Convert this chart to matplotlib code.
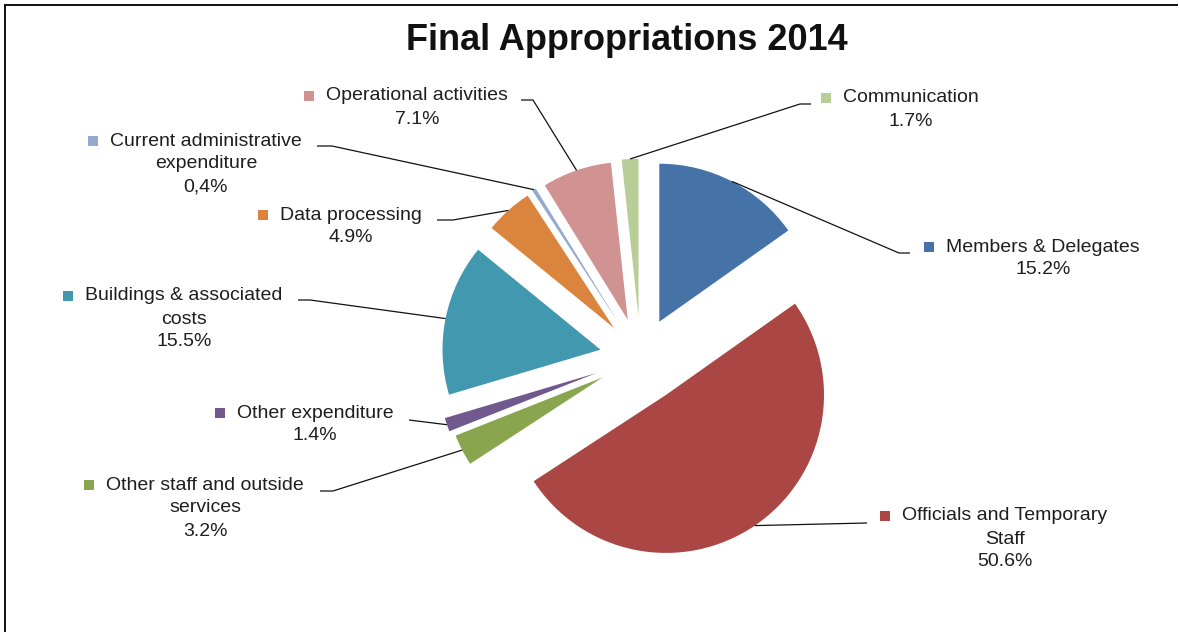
import matplotlib
matplotlib.use("Agg")
import matplotlib.pyplot as plt
import numpy as np

plt.rcParams['font.family'] = ['Liberation Sans', 'DejaVu Sans']

W, H = 1179, 632

# budget shares, clockwise from 12 o'clock
categories = ["Members & Delegates", "Officials and Temporary Staff",
              "Other staff and outside services", "Other expenditure",
              "Buildings & associated costs", "Data processing",
              "Current administrative expenditure", "Operational activities",
              "Communication"]
shares = [15.2, 50.6, 3.2, 1.4, 15.5, 4.9, 0.4, 7.1, 1.7]
pct_text = ["15.2%", "50.6%", "3.2%", "1.4%", "15.5%", "4.9%", "0,4%", "7.1%", "1.7%"]
label_lines = [["Members & Delegates"],
               ["Officials and Temporary", "Staff"],
               ["Other staff and outside", "services"],
               ["Other expenditure"],
               ["Buildings & associated", "costs"],
               ["Data processing"],
               ["Current administrative", "expenditure"],
               ["Operational activities"],
               ["Communication"]]
colors = ["#4572A7", "#AA4643", "#89A54E", "#71588F", "#4198AF",
          "#DB843D", "#93A9CF", "#D19392", "#B9CD96"]

# wedge offsets in pixels
explode = [40.5, 45, 43, 47, 41, 40, 41, 40, 41]

# label layout: text centre x, first line y, leader path points (label end first)
label_pos = [(1043, 247), (1005, 516), (205, 485), (315, 413), (184, 296),
             (351, 215), (206, 141), (417, 96), (911, 98)]
leader_pts = [[(910, 253), (899, 253)],
              [(867, 523)],
              [(320, 491), (333, 491)],
              [(409, 420)],
              [(298, 300), (310, 300)],
              [(437, 220), (453, 220)],
              [(317, 146), (332, 146)],
              [(521, 100), (533, 100)],
              [(811, 104), (800, 104)]]

fig = plt.figure(figsize=(W / 100, H / 100), dpi=100)
ax = fig.add_axes([0, 0, 1, 1])

wedges, _ = ax.pie(shares, colors=colors, explode=explode, radius=158,
                   center=(640.7, 357.7), startangle=270, counterclock=True,
                   wedgeprops=dict(linewidth=0))
ax.set_xlim(0, W)
ax.set_ylim(H, 0)
ax.axis("off")

fig.text(0.5315, 1 - 40 / H, "Final Appropriations 2014", ha="center",
         va="center", fontsize=26, fontweight="bold", color="#111111")

txt_col = "#1e1e1e"
line_h = 23
first_lines = []
for i, w in enumerate(wedges):
    cx, y0 = label_pos[i]
    lines = label_lines[i] + [pct_text[i]]
    for k, ln in enumerate(lines):
        t = ax.text(cx, y0 + k * line_h, ln, ha="center", va="center",
                    fontsize=14, color=txt_col)
        if k == 0:
            first_lines.append(t)

    # leader from the middle of the outer arc to the label
    tm = np.deg2rad((w.theta1 + w.theta2) / 2)
    ax0 = w.center[0] + w.r * np.cos(tm)
    ay0 = w.center[1] + w.r * np.sin(tm)
    pts = leader_pts[i] + [(ax0, ay0)]
    ax.plot([p[0] for p in pts], [p[1] for p in pts], color="#111111",
            lw=0.9, solid_capstyle="butt")

# colour keys left of each first label line
fig.canvas.draw()
renderer = fig.canvas.get_renderer()
inv = ax.transData.inverted()
for i, t in enumerate(first_lines):
    bb = t.get_window_extent(renderer)
    x_left, _ = inv.transform((bb.x0, bb.y0))
    ax.plot(x_left - 17, label_pos[i][1], marker="s", markersize=7,
            color=colors[i], markeredgewidth=0)

# chart frame
ax.plot([4.5, 4.5], [H, 5], color="#111111", lw=1.4, clip_on=False)
ax.plot([4.5, 1177], [5, 5], color="#111111", lw=1.4, clip_on=False)

fig.savefig("out.png", dpi=100, facecolor="white")
